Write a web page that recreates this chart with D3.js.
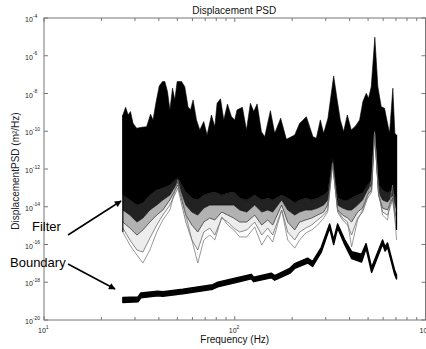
<!DOCTYPE html>
<html><head><meta charset="utf-8">
<script src="https://cdn.jsdelivr.net/npm/d3@7"></script>
<style>
body{margin:0;background:#fff}
svg{display:block}
text{font-family:"Liberation Sans",Arial,sans-serif}
</style>
</head><body><svg id="chart" width="426" height="349"></svg>
<script>
// ---------- DATA (PSD stored as log10 of m^2/Hz) ----------
const title = "Displacement PSD";
const xLabel = "Frequency (Hz)";
const yLabel = "DisplacementPSD (m\u00B2/Hz)";

// upper envelope of the "Filter" bundle
const upperFreq = [25.9,26.8,27.6,28.4,29.3,30.6,32.5,34.5,36.2,37.3,38.6,40.2,41.8,43.0,44.4,45.7,47.2,48.5,49.9,52.6,54.7,56.9,58.6,60.5,63.0,65.6,68.8,71.6,75.5,78.6,80.8,84.2,87.6,91.6,96.1,100,102.8,109.7,115.2,120.8,125.8,131.0,138.0,143.6,153.8,162.0,174.1,186.5,206.2,218.9,226.2,237.4,247.0,257.0,267.8,281.0,292.4,308.0,330.0,343.3,357.6,372.2,389.1,408.3,430.1,451.3,469.6,489.2,502.9,519.5,542.6,562.6,586.2,610.0,627.2,648.0,674.3,690.8,705.0];
const upperLog10 = [-9.14,-8.73,-9.14,-8.96,-9.58,-9.84,-9.79,-9.76,-9.10,-9.40,-8.50,-7.60,-7.37,-7.37,-7.90,-8.87,-7.72,-8.34,-7.37,-7.37,-7.64,-8.70,-8.87,-8.34,-9.40,-9.93,-9.49,-10.20,-9.14,-9.76,-8.52,-8.28,-9.40,-8.56,-9.23,-9.40,-8.87,-8.73,-9.93,-8.52,-8.96,-8.55,-10.02,-10.29,-8.91,-10.11,-9.31,-10.43,-10.20,-9.58,-9.44,-9.23,-9.76,-10.29,-10.37,-9.40,-10.11,-9.31,-7.07,-8.25,-9.40,-10.02,-9.14,-9.93,-9.72,-9.40,-8.43,-7.99,-8.25,-7.64,-5.02,-7.64,-8.70,-8.78,-9.40,-10.11,-7.72,-10.11,-10.20];

// lower part of the bundle: bottom of the dense core and the lowest individual curves
const lowerFreq = [25.9,28.2,30.7,33.0,35.9,39.0,42.0,45.7,50.3,55.4,59.6,64.0,68.8,74.0,78.6,85.5,91.9,98.8,106.2,115.6,127.2,138.5,148.9,158.1,176.2,189.5,206.2,218.9,235.4,253.0,272.0,292.4,306.9,326.0,346.2,367.7,390.5,409.9,440.6,467.9,497.0,521.6,540.8,567.5,595.6,632.4,671.7,705.0];
const coreLog10 = [-13.38,-13.64,-13.91,-13.80,-13.38,-13.11,-13.01,-12.85,-12.48,-13.22,-13.54,-13.64,-13.38,-13.27,-13.22,-13.38,-13.27,-13.22,-13.54,-13.64,-13.38,-13.64,-13.54,-13.64,-13.38,-13.54,-13.80,-13.64,-13.54,-13.64,-13.54,-13.38,-13.22,-11.42,-13.54,-13.64,-13.64,-13.54,-13.38,-13.27,-12.85,-12.58,-9.83,-12.85,-13.11,-13.27,-13.11,-13.64];
const mid1Log10 = [-14.17,-14.44,-14.81,-14.60,-14.17,-13.91,-13.64,-13.38,-12.69,-13.91,-14.28,-14.44,-14.07,-13.91,-13.91,-13.91,-13.91,-13.91,-14.17,-14.28,-13.91,-14.28,-14.17,-14.28,-13.64,-14.17,-14.44,-14.28,-14.17,-14.17,-14.07,-13.91,-13.64,-11.52,-13.91,-14.07,-14.17,-14.17,-13.91,-13.64,-13.11,-12.85,-9.93,-13.22,-13.64,-13.75,-13.38,-14.17];
const mid2Log10 = [-14.81,-15.13,-15.50,-15.23,-14.81,-14.44,-14.17,-13.64,-12.85,-14.44,-14.97,-15.34,-14.81,-14.60,-14.70,-14.28,-14.44,-14.60,-14.81,-14.81,-14.44,-14.97,-14.70,-14.97,-13.91,-14.81,-15.23,-14.81,-14.70,-14.60,-14.44,-14.28,-13.91,-11.63,-14.17,-14.44,-14.60,-14.81,-14.28,-14.07,-13.38,-13.11,-9.99,-13.38,-14.07,-14.17,-13.54,-14.70];
const low2Log10 = [-15.13,-15.76,-16.29,-16.40,-15.66,-14.97,-14.44,-13.91,-13.01,-14.81,-15.76,-16.29,-15.34,-15.13,-15.50,-14.60,-14.81,-15.13,-15.34,-15.23,-14.81,-15.50,-15.13,-15.50,-14.17,-15.34,-15.76,-15.34,-15.13,-14.97,-14.70,-14.44,-14.17,-11.68,-14.28,-14.70,-14.97,-15.50,-14.60,-14.28,-13.54,-13.22,-10.04,-13.38,-14.28,-14.44,-13.64,-15.23];
const low1Log10 = [-15.34,-16.03,-16.56,-16.98,-16.29,-15.34,-14.70,-14.17,-12.58,-14.44,-15.76,-16.98,-15.76,-15.50,-15.76,-14.54,-14.97,-15.23,-15.60,-15.60,-15.07,-16.03,-15.50,-15.87,-14.17,-15.76,-16.19,-15.76,-15.39,-15.23,-14.97,-14.60,-14.28,-11.79,-14.17,-14.60,-14.81,-16.13,-14.70,-14.17,-13.38,-12.58,-10.09,-13.11,-14.44,-14.70,-12.85,-15.76];

// "Boundary" band (upper and lower edge)
const boundaryFreq = [25.9,31.1,32.2,39.5,42.0,53.4,76.7,81.5,97.6,122.0,125.8,155.3,162.0,194.1,206.2,241.1,256.1,283.8,314.4,330.0,346.2,376.6,409.9,462.3,488.1,521.6,595.6,613.8,632.4,688.3,705.0];
const boundaryUpperLog10 = [-18.81,-18.78,-18.57,-18.48,-18.50,-18.37,-18.13,-18.00,-17.81,-17.58,-17.73,-17.52,-17.65,-17.27,-17.01,-16.72,-16.90,-16.16,-14.91,-15.74,-14.91,-15.74,-16.38,-16.51,-15.95,-17.22,-15.76,-16.13,-15.92,-17.35,-17.61];
const boundaryLowerLog10 = [-19.07,-19.04,-18.83,-18.72,-18.74,-18.61,-18.37,-18.24,-18.05,-17.82,-17.97,-17.76,-17.89,-17.53,-17.27,-16.98,-17.16,-16.42,-15.13,-16.00,-15.13,-16.00,-16.74,-16.93,-16.21,-17.48,-15.98,-16.35,-16.14,-17.57,-17.83];

// axes
const yTickExponents = [-4,-6,-8,-10,-12,-14,-16,-18,-20];
const xTickExponents = [1,2,3];
const xMinorTicks = [20,30,40,50,60,70,80,90,200,300,400,500,600,700,800,900];

// annotations
const annotations = [
  {label:"Filter",   tx:32, ty:231, from:[68,235], to:[121,201]},
  {label:"Boundary", tx:10, ty:267, from:[68,264], to:[115,289]}
];

// ---------- CHART ----------
const svg = d3.select("#chart");
const L = 44, R = 425.5, T = 18, B = 320;
const x = d3.scaleLog().domain([10,1000]).range([L,R]);
const y = d3.scaleLog().domain([1e-20,1e-4]).range([B,T]);
const P = v => y(Math.pow(10, v));

const ptLine = d3.line().x(d => x(d[0])).y(d => P(d[1]));

const upperPts = upperFreq.map((f,i) => [f, upperLog10[i]]);
const corePts = lowerFreq.map((f,i) => [f, coreLog10[i]]);
const massPts = upperPts.concat(corePts.slice().reverse());
const g = svg.append("g");

// fuzzy transition below the dense core
const band = (a, b) => d3.area().x((d,i) => x(lowerFreq[i])).y0((d,i) => P(b[i])).y1((d,i) => P(a[i]))(lowerFreq);
g.append("path").attr("d", band(coreLog10, mid1Log10)).attr("fill", "#222");
g.append("path").attr("d", band(mid1Log10, mid2Log10)).attr("fill", "#555").attr("opacity", 0.45);
g.append("path").attr("d", band(mid2Log10, low2Log10)).attr("fill", "#888").attr("opacity", 0.15);

g.append("path").attr("d", ptLine(massPts) + "Z").attr("fill", "#000").attr("stroke", "#000").attr("stroke-width", 0.6);

const lowerSeries = [mid1Log10, mid2Log10, low2Log10, low1Log10];
const lowerStroke = ["#111", "#333", "#666", "#777"];
lowerSeries.forEach((s, k) => {
  g.append("path")
    .attr("d", ptLine(lowerFreq.map((f,i) => [f, s[i]])))
    .attr("fill", "none")
    .attr("stroke", lowerStroke[k])
    .attr("stroke-width", 0.75);
});
// start and end edges of the bundle (all curves begin/end at the same frequency)
const nL = lowerFreq.length - 1;
g.append("path").attr("d", ptLine([[lowerFreq[0], upperLog10[0]], [lowerFreq[0], low1Log10[0]]]))
  .attr("stroke", "#000").attr("stroke-width", 1.2);
g.append("path").attr("d", ptLine([[lowerFreq[nL], upperLog10[upperLog10.length-1]], [lowerFreq[nL], low2Log10[nL]]]))
  .attr("stroke", "#000").attr("stroke-width", 1.2);

// boundary band
const bArea = d3.area()
  .x((d,i) => x(boundaryFreq[i]))
  .y0((d,i) => P(boundaryLowerLog10[i]))
  .y1((d,i) => P(boundaryUpperLog10[i]));
g.append("path").attr("d", bArea(boundaryFreq)).attr("fill", "#000").attr("stroke", "#000").attr("stroke-width", 1.4).attr("stroke-linejoin", "round");

// ---------- AXES (MATLAB-style box, inward ticks) ----------
const ax = svg.append("g").attr("stroke", "#777").attr("stroke-width", 1).attr("fill", "none");
ax.append("rect").attr("x", L).attr("y", T).attr("width", R - L).attr("height", B - T);
xTickExponents.forEach(e => {
  const px = x(Math.pow(10, e));
  ax.append("line").attr("x1", px).attr("x2", px).attr("y1", B).attr("y2", B - 4);
  ax.append("line").attr("x1", px).attr("x2", px).attr("y1", T).attr("y2", T + 4);
});
xMinorTicks.forEach(v => {
  const px = x(v);
  ax.append("line").attr("x1", px).attr("x2", px).attr("y1", B).attr("y2", B - 3);
  ax.append("line").attr("x1", px).attr("x2", px).attr("y1", T).attr("y2", T + 3);
});
yTickExponents.forEach(e => {
  const py = y(Math.pow(10, e));
  ax.append("line").attr("x1", L).attr("x2", L + 4).attr("y1", py).attr("y2", py);
  ax.append("line").attr("x1", R).attr("x2", R - 4).attr("y1", py).attr("y2", py);
});

// tick labels
const tl = svg.append("g").attr("fill", "#222");
yTickExponents.forEach(e => {
  const py = y(Math.pow(10, e));
  const t = tl.append("text").attr("x", 25).attr("y", py + 4).attr("font-size", 7);
  t.append("tspan").text("10");
  t.append("tspan").attr("dy", -4.5).attr("font-size", 5).text(e);
});
xTickExponents.forEach(e => {
  const px = x(Math.pow(10, e));
  const t = tl.append("text").attr("x", px - 6).attr("y", 333).attr("font-size", 7);
  t.append("tspan").text("10");
  t.append("tspan").attr("dy", -4.5).attr("font-size", 5).text(e);
});

// titles
svg.append("text").attr("x", (L + R) / 2 - 0.5).attr("y", 13.5).attr("text-anchor", "middle")
  .attr("font-size", 10).attr("fill", "#111").text(title);
svg.append("text").attr("x", (L + R) / 2).attr("y", 343).attr("text-anchor", "middle")
  .attr("font-size", 10).attr("fill", "#111").text(xLabel);
svg.append("text").attr("transform", `translate(18.5,${(T + B) / 2 + 2}) rotate(-90)`).attr("text-anchor", "middle")
  .attr("font-size", 10).attr("fill", "#1a1a2a").text(yLabel);

// annotations with arrows
svg.append("defs").append("marker").attr("id", "ah").attr("viewBox", "0 0 10 10")
  .attr("refX", 9).attr("refY", 5).attr("markerWidth", 5).attr("markerHeight", 4.5)
  .attr("orient", "auto").attr("markerUnits", "strokeWidth")
  .append("path").attr("d", "M0,0L10,5L0,10Z").attr("fill", "#000");
const an = svg.append("g");
annotations.forEach(a => {
  an.append("text").attr("x", a.tx).attr("y", a.ty).attr("font-size", 13).attr("fill", "#000").text(a.label);
  an.append("path").attr("d", d3.line()([a.from, a.to])).attr("stroke", "#000").attr("stroke-width", 1.5)
    .attr("fill", "none").attr("marker-end", "url(#ah)");
});
</script>
</body></html>
